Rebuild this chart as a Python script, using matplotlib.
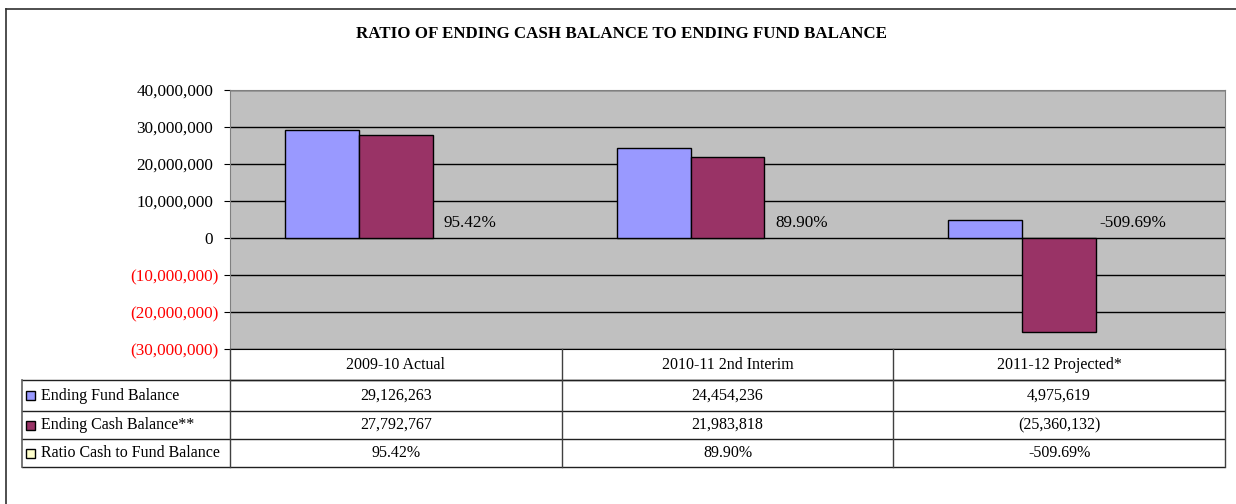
import matplotlib
matplotlib.use("Agg")
import matplotlib.pyplot as plt
import matplotlib.transforms as mtrans
from matplotlib.patches import Rectangle
from matplotlib.lines import Line2D
import numpy as np

plt.rcParams["font.family"] = ["Liberation Serif", "DejaVu Serif"]

categories = ["2009-10 Actual", "2010-11 2nd Interim", "2011-12 Projected*"]
fund_balance = [29126263, 24454236, 4975619]
cash_balance = [27792767, 21983818, -25360132]
ratio = [95.42, 89.90, -509.69]
series_names = ["Ending Fund Balance", "Ending Cash Balance**", "Ratio Cash to Fund Balance"]
fund_text = ["29,126,263", "24,454,236", "4,975,619"]
cash_text = ["27,792,767", "21,983,818", "(25,360,132)"]
ratio_text = ["95.42%", "89.90%", "-509.69%"]
yticks = [-30e6, -20e6, -10e6, 0, 10e6, 20e6, 30e6, 40e6]

W, H = 1236, 504
C_FUND, C_CASH, C_RATIO = "#9999FF", "#993366", "#FFFFCC"
FS = 11.5      # table text
FS_AX = 12.3   # tick + data labels

fig = plt.figure(figsize=(W / 100, H / 100), dpi=100)
fx = lambda px: px / W
fy = lambda py: 1 - py / H

# outer chart frame (left + top visible)
fig.add_artist(Line2D([fx(6), fx(6)], [fy(9), 0], color="#303030", lw=1.2))
fig.add_artist(Line2D([fx(6), 1], [fy(9), fy(9)], color="#303030", lw=1.2))

fig.text(0.503, fy(34.5), "RATIO OF ENDING CASH BALANCE TO ENDING FUND BALANCE",
         ha="center", va="center", fontsize=12.2, fontweight="bold")

ax = fig.add_axes([fx(230), fy(349), fx(1225) - fx(230), fy(90) - fy(349)])
ax.set_facecolor("#C0C0C0")
x = np.arange(len(categories))
bw = 0.223
ax.bar(x - bw, fund_balance, bw, color=C_FUND, edgecolor="black", lw=1, zorder=3)
ax.bar(x, cash_balance, bw, color=C_CASH, edgecolor="black", lw=1, zorder=3)
for xi, t in zip(x, ratio_text):
    ax.annotate(t, (xi + bw, 0), xytext=(0, 5), textcoords="offset points",
                ha="center", va="bottom", fontsize=FS_AX, zorder=4)

ax.set_xlim(-0.5, 2.5)
ax.set_ylim(-30e6, 40e6)
ax.set_yticks(yticks)
ax.set_yticklabels([f"{v:,.0f}" if v >= 0 else f"({-v:,.0f})" for v in yticks], fontsize=FS_AX)
ax.set_xticks([])
ax.tick_params(axis="y", length=4, pad=4.4, color="black")
for lab, v in zip(ax.get_yticklabels(), yticks):
    if v < 0:
        lab.set_color("red")
    else:
        lab.set_transform(lab.get_transform() + mtrans.ScaledTranslation(-5 / 100, 0, fig.dpi_scale_trans))
ax.grid(axis="y", color="black", lw=1, zorder=1)
for s in ["left", "top", "right"]:
    ax.spines[s].set_color("#808080")
ax.spines["bottom"].set_color("black")

# data table under the plot
bt = mtrans.blended_transform_factory(ax.transData, fig.transFigure)
row_lines = [349, 380, 411, 439, 467]
tl = dict(color="#202020", lw=1)
fig.add_artist(Line2D([fx(230), fx(1224)], [fy(380), fy(380)], **tl))
for py in row_lines[1:]:
    fig.add_artist(Line2D([fx(22), fx(1224)], [fy(py), fy(py)], **tl))
fig.add_artist(Line2D([fx(22), fx(22)], [fy(380), fy(467)], color="#606060", lw=1.2))
for xb in [-0.5, 0.5, 1.5, 2.5]:
    fig.add_artist(Line2D([xb, xb], [fy(349), fy(467)], transform=bt, color="#404040", lw=1))

for xi, c in zip(x, categories):
    fig.text(xi, fy(365), c, transform=bt, ha="center", va="center", fontsize=FS)
rows = [fund_text, cash_text, ratio_text]
colors = [C_FUND, C_CASH, C_RATIO]
for r, (name, vals, col) in enumerate(zip(series_names, rows, colors)):
    yc = (row_lines[r + 1] + row_lines[r + 2]) / 2
    fig.add_artist(Rectangle((fx(26), fy(yc + 4.5)), fx(9), 9 / H, facecolor=col,
                             edgecolor="black", lw=1))
    fig.text(fx(41), fy(yc), name, ha="left", va="center", fontsize=FS)
    for xi, v in zip(x, vals):
        fig.text(xi, fy(yc), v, transform=bt, ha="center", va="center", fontsize=FS)

fig.savefig("out.png", dpi=100)
